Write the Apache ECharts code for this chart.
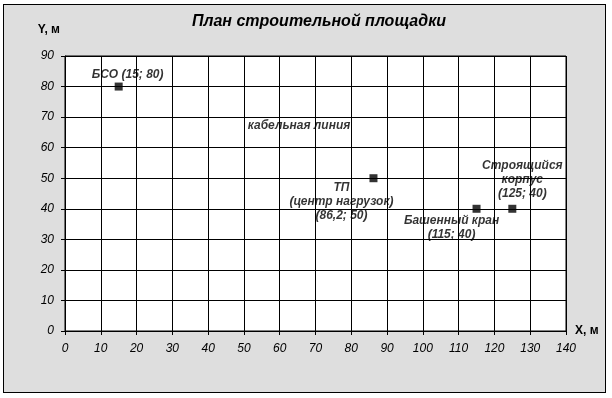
<!DOCTYPE html>
<html>
<head>
<meta charset="utf-8">
<script src="https://cdn.jsdelivr.net/npm/echarts@6/dist/echarts.min.js"></script>
<style>
  body { margin: 0; background: #fff; }
  #frame { position: absolute; left: 3px; top: 4px; width: 603px; height: 389px;
           box-sizing: border-box; border: 1px solid #000; background: #dedede; }
  #chart { position: absolute; left: 0; top: 0; width: 612px; height: 398px; }
</style>
</head>
<body>
<div id="frame"></div>
<div id="chart"></div>
<script>
// объекты на плане: подписи и координаты, м
var names = ['БСО (15; 80)', 'ТП\n(центр нагрузок)\n(86,2; 50)', 'Башенный кран\n(115; 40)', 'Строящийся\nкорпус\n(125; 40)'];
var xs = [15, 86.2, 115, 125];
var ys = [80, 50, 40, 40];
// сдвиг подписей относительно точки (px)
var offs = [[9, -12], [-32, 23], [-25, 19], [10, -29]];

// надпись без маркера
var noteText = 'кабельная линия';
var noteX = 65.4;
var noteY = 67.2;

var xTicks = [0, 10, 20, 30, 40, 50, 60, 70, 80, 90, 100, 110, 120, 130, 140];
var yTicks = [0, 10, 20, 30, 40, 50, 60, 70, 80, 90];

var font = '"Liberation Sans", Arial, sans-serif';

var pts = [];
for (var i = 0; i < names.length; i++) {
  pts.push({
    value: [xs[i], ys[i]],
    label: { formatter: names[i], offset: offs[i] }
  });
}

var chart = echarts.init(document.getElementById('chart'), null, { renderer: 'canvas' });
chart.setOption({
  backgroundColor: 'transparent',
  animation: false,
  title: {
    text: 'План строительной площадки',
    left: 314, top: 9, textAlign: 'center',
    textStyle: { fontFamily: font, fontSize: 16, fontWeight: 'bold', fontStyle: 'italic', color: '#000' }
  },
  grid: {
    left: 65, top: 56, right: 46, bottom: 67,
    show: true, backgroundColor: '#fff', borderColor: '#000', borderWidth: 1
  },
  xAxis: {
    type: 'value', min: xTicks[0], max: xTicks[xTicks.length - 1], interval: 10,
    name: 'X, м', nameLocation: 'end', nameGap: 9,
    nameTextStyle: { fontFamily: font, fontSize: 12, fontWeight: 'bold', color: '#000' },
    axisLine: { lineStyle: { color: '#000', width: 1 } },
    axisTick: { show: true, length: 4, lineStyle: { color: '#000' } },
    axisLabel: { margin: 12, fontFamily: font, fontSize: 12, fontStyle: 'italic', color: '#000' },
    splitLine: { show: true, lineStyle: { color: '#000', width: 1 } }
  },
  yAxis: {
    type: 'value', min: yTicks[0], max: yTicks[yTicks.length - 1], interval: 10,
    name: 'Y, м', nameLocation: 'end', nameGap: 20,
    nameTextStyle: { fontFamily: font, fontSize: 12, fontWeight: 'bold', color: '#000', align: 'right', padding: [0, 5, 0, 0] },
    axisLine: { show: true, lineStyle: { color: '#000', width: 1 } },
    axisTick: { show: true, length: 4, lineStyle: { color: '#000' } },
    axisLabel: { margin: 11, fontFamily: font, fontSize: 12, fontStyle: 'italic', color: '#000' },
    splitLine: { show: true, lineStyle: { color: '#000', width: 1 } }
  },
  series: [
    {
      type: 'scatter',
      symbol: 'rect',
      symbolSize: 8,
      itemStyle: { color: '#000' },
      label: {
        show: true, position: 'inside', align: 'center', verticalAlign: 'middle',
        fontFamily: font, fontSize: 12, fontWeight: 'bold', fontStyle: 'italic',
        color: '#000', lineHeight: 14
      },
      emphasis: { disabled: true },
      data: pts
    },
    {
      type: 'scatter',
      symbolSize: 0,
      label: {
        show: true, position: 'inside', formatter: noteText,
        fontFamily: font, fontSize: 12, fontWeight: 'bold', fontStyle: 'italic', color: '#000'
      },
      emphasis: { disabled: true },
      data: [[noteX, noteY]]
    }
  ]
});
</script>
</body>
</html>
